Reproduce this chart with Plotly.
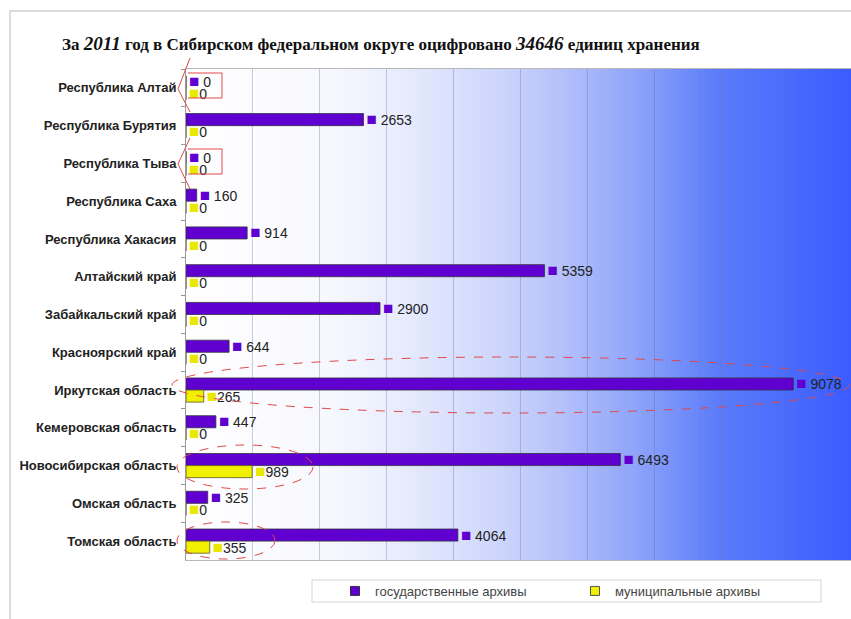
import plotly.graph_objects as go

# ---------------- data ----------------
regions = ["Республика Алтай", "Республика Бурятия", "Республика Тыва", "Республика Саха",
           "Республика Хакасия", "Алтайский край", "Забайкальский край", "Красноярский край",
           "Иркутская область", "Кемеровская область", "Новосибирская область",
           "Омская область", "Томская область"]
state_archives = [0, 2653, 0, 160, 914, 5359, 2900, 644, 9078, 447, 6493, 325, 4064]
municipal_archives = [0, 0, 0, 0, 0, 0, 0, 0, 265, 0, 989, 0, 355]
series_names = ["государственные архивы", "муниципальные архивы"]
title_text = ("За <i><span style='font-size:19px'>2011</span></i> год в Сибирском федеральном округе "
              "оцифровано <i><span style='font-size:19px'>34646</span></i> единиц хранения")

# ---------------- style ----------------
GOV = "#6000d0"
MUN = "#f0f000"
W, H = 851, 619
L, R, T, B = 186, 0, 69, 59


def px(x):
    return (x - L) / (W - L - R)


def py(y):
    return (H - B - y) / (H - T - B)


fig = go.Figure()

fig.add_trace(go.Bar(
    y=regions, x=state_archives, orientation="h", name=series_names[0],
    marker=dict(color=GOV, line=dict(color="rgba(50,50,70,0.8)", width=1)),
    text=[f"<span style='color:{GOV};font-size:17px'>■</span> {v}" for v in state_archives],
    textposition="outside", constraintext="none", cliponaxis=False,
    textfont=dict(family="Liberation Sans, Arial", size=14, color="#222"),
    showlegend=False, hoverinfo="skip"))
fig.add_trace(go.Bar(
    y=regions, x=municipal_archives, orientation="h", name=series_names[1],
    marker=dict(color=MUN, line=dict(color="rgba(90,90,40,0.8)", width=1)),
    text=[f"<span style='color:#e8e800;font-size:17px'>■</span>{v}" for v in municipal_archives],
    textposition="outside", constraintext="none", cliponaxis=False,
    textfont=dict(family="Liberation Sans, Arial", size=14, color="#222"),
    showlegend=False, hoverinfo="skip"))

# legend entries
for name, col, lc in [(series_names[0], GOV, "#333"), (series_names[1], MUN, "#555")]:
    fig.add_trace(go.Scatter(x=[None], y=[None], mode="markers", name=name,
                             marker=dict(symbol="square", size=9, color=col,
                                         line=dict(color=lc, width=1)),
                             hoverinfo="skip"))

shapes = []
# gradient background of plot area
stops = [(0.0, (255, 255, 255)), (0.22, (247, 248, 254)), (0.32, (232, 236, 253)),
         (0.47, (205, 214, 252)), (0.56, (182, 194, 251)), (0.67, (145, 166, 250)),
         (0.80, (92, 124, 250)), (1.0, (58, 92, 255))]


def grad(f):
    for (f0, c0), (f1, c1) in zip(stops[:-1], stops[1:]):
        if f0 <= f <= f1:
            t = (f - f0) / (f1 - f0)
            return "rgb(%d,%d,%d)" % tuple(round(a + (b - a) * t) for a, b in zip(c0, c1))
    return "rgb(%d,%d,%d)" % stops[-1][1]


N = 140
for i in range(N):
    f0 = i / N
    f1 = (i + 1.6) / N
    shapes.append(dict(type="rect", xref="paper", yref="paper", x0=f0, x1=min(f1, 1),
                       y0=0, y1=1, fillcolor=grad((i + 0.5) / N), line=dict(width=0),
                       layer="below"))

# outer frame
shapes.append(dict(type="path", xref="paper", yref="paper",
                   path=f"M {px(10)},{py(619)} L {px(10)},{py(11)} L {px(851)},{py(11)}",
                   line=dict(color="#cfcfcf", width=1.5)))

# legend box
shapes.append(dict(type="rect", xref="paper", yref="paper", x0=px(312), x1=px(821),
                   y0=py(602), y1=py(580), fillcolor="white",
                   line=dict(color="#d4d4d4", width=1)))

RED = "#e04848"
# callouts
for top, bot, ctop, tip, cbot in [(73, 98, 58, 89, 112), (149, 174, 138, 164, 189)]:
    shapes.append(dict(type="path", xref="paper", yref="paper",
                       path=(f"M {px(190)},{py(ctop)} L {px(178)},{py(tip)} L {px(190)},{py(cbot)} "
                             f"M {px(188)},{py(top)} L {px(222)},{py(top)} L {px(222)},{py(bot)} "
                             f"L {px(188)},{py(bot)}"),
                       line=dict(color=RED, width=1)))
# ellipses
for x0, x1, y0, y1 in [(172, 849, 357, 413), (177, 313, 445, 489), (177, 275, 522, 559)]:
    shapes.append(dict(type="circle", xref="paper", yref="paper", x0=px(x0), x1=px(x1),
                       y0=py(y1), y1=py(y0), line=dict(color=RED, width=1, dash="dash")))

fig.update_layout(
    width=W, height=H, autosize=False,
    margin=dict(l=L, r=R, t=T, b=B, pad=0, autoexpand=False),
    paper_bgcolor="white", plot_bgcolor="rgba(0,0,0,0)",
    barmode="group", bargap=0.36, bargroupgap=0.0,
    title=dict(text=title_text, x=62 / W, xanchor="left", xref="container",
               y=1 - 44 / H, yanchor="middle", yref="container",
               font=dict(family="Liberation Serif, Times New Roman", size=17, color="#111",
                         weight="bold")),
    xaxis=dict(range=[0, 9940], showticklabels=False, ticks="", dtick=1000,
               showgrid=True, gridcolor="rgba(110,110,150,0.35)", gridwidth=1,
               zeroline=False, showline=True, linecolor="#b8b8b8", linewidth=1,
               mirror=True, fixedrange=True, automargin=False),
    yaxis=dict(type="category", categoryorder="array", categoryarray=regions,
               autorange="reversed", ticks="outside", ticklen=4, tickcolor="#999",
               tickson="boundaries", showline=True, linecolor="#999", linewidth=1,
               showgrid=False, automargin=False, ticklabelstandoff=6,
               tickfont=dict(family="Liberation Sans, Arial", size=13, color="#222",
                             weight="bold")),
    legend=dict(orientation="h", x=335 / W, y=1 - 591 / H, xref="container", yref="container",
                xanchor="left", yanchor="middle",
                bgcolor="rgba(0,0,0,0)", entrywidth=195, entrywidthmode="pixels",
                itemwidth=30, font=dict(family="Liberation Sans, Arial", size=13,
                                        color="#444")),
    shapes=shapes,
    showlegend=True,
)

post = ("document.body.style.margin='0';document.body.style.overflow='hidden';"
        "var gd=document.getElementById('{plot_id}');"
        "Plotly.relayout(gd,{width:%d,height:%d});" % (W, H))
fig.write_html("out.html", config={"responsive": False, "displayModeBar": False},
               post_script=post)
